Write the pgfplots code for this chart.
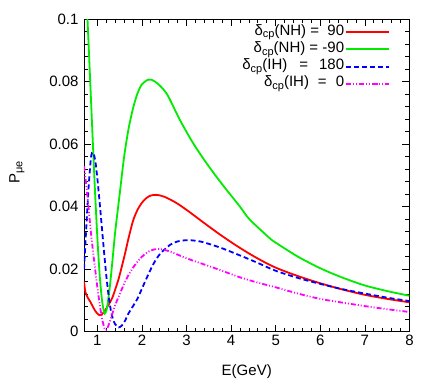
\documentclass[border=0pt]{standalone}
\usepackage{pgfplots}
\pgfplotsset{compat=1.18}
\usepackage{fontspec}
\setmainfont{Liberation Sans}
\definecolor{gpred}{RGB}{255,0,0}
\definecolor{gpgreen}{RGB}{0,235,0}
\definecolor{gpblue}{RGB}{0,0,255}
\definecolor{gpmag}{RGB}{255,0,255}
\newcommand\sub[1]{\raisebox{-0.35ex}{\fontsize{11}{11}\selectfont #1}}
\newcommand\lf{\fontsize{15}{16}\selectfont}
\begin{document}
\begin{tikzpicture}
\path (-84pt,-50.3pt) rectangle (352pt,331.7pt);
\begin{axis}[
  scale only axis, width=325.5pt, height=312.4pt,
  xmin=0.7, xmax=8, ymin=0, ymax=0.1,
  xtick={1,2,3,4,5,6,7,8},
  ytick={0,0.02,0.04,0.06,0.08,0.1},
  yticklabels={0,0.02,0.04,0.06,0.08,0.1},
  minor x tick num=4, minor y tick num=4,
  tick align=inside, major tick length=7pt, minor tick length=4pt,
  tick style={black, line width=0.8pt},
  axis line style={line width=0.9pt},
  /pgf/number format/assume math mode=true,
  xticklabel style={font=\lf},
  yticklabel style={font=\lf, xshift=-2pt},
  xlabel={E(GeV)},
  xlabel style={at={(axis description cs:0.5,-0.128)}, anchor=center, font=\lf},
  ylabel={P\sub{μe}},
  ylabel style={at={(axis description cs:-0.206,0.51)}, anchor=center, font=\lf},
  legend style={draw=none, fill=none, at={(0.94,0.985)}, anchor=north east,
    row sep=1.6pt, inner sep=0pt,
    nodes={text height=10pt, text depth=4pt, inner sep=0.85pt}},
  legend cell align=right,
  legend plot pos=right,
  legend image code/.code={\draw[mark repeat=2,mark phase=2,line width=1.8pt,#1] plot coordinates {(0pt,0pt) (21.5pt,0pt) (43pt,0pt)};},
]
\addplot[gpred, smooth, line width=1.8pt] coordinates {
(0.70,0.0160) (0.73,0.0128) (0.78,0.0110) (0.84,0.0096) (0.90,0.0080) (0.95,0.0067)
(1.00,0.0058) (1.045,0.0053) (1.10,0.0055) (1.18,0.0070) (1.25,0.0086) (1.33,0.0107)
(1.40,0.0135) (1.48,0.0171) (1.56,0.0215) (1.63,0.0256) (1.70,0.0300) (1.80,0.0355)
(1.90,0.0390) (2.00,0.0413) (2.10,0.0428) (2.20,0.0436) (2.33,0.0438) (2.50,0.0432)
(2.75,0.0414) (3.00,0.0390) (3.30,0.0358) (3.74,0.0312) (4.20,0.0268) (4.60,0.0234)
(5.00,0.0205) (5.50,0.0178) (6.00,0.0155) (6.50,0.0135) (7.00,0.0118) (7.50,0.0105)
(8.00,0.0094)};
\addlegendentry{\lf δ\sub{cp}(NH) = \ 90}
\addplot[gpgreen, smooth, line width=1.8pt] coordinates {
(0.70,0.1240) (0.76,0.1060) (0.80,0.0930) (0.85,0.0765) (0.90,0.0600) (0.95,0.0440)
(1.00,0.0300) (1.05,0.0185) (1.10,0.0105) (1.15,0.0062) (1.18,0.0060) (1.22,0.0080)
(1.28,0.0145) (1.34,0.0230) (1.40,0.0320) (1.50,0.0440) (1.60,0.0560) (1.70,0.0650)
(1.80,0.0715) (1.90,0.0763) (2.00,0.0792) (2.15,0.0807) (2.30,0.0800) (2.55,0.0763)
(2.85,0.0678) (3.15,0.0603) (3.45,0.0539) (3.82,0.0468) (4.20,0.0400) (4.41,0.0360)
(4.86,0.0300) (5.00,0.0285) (5.50,0.0240) (6.00,0.0203) (6.50,0.0173) (7.00,0.0148)
(7.50,0.0130) (8.00,0.0115)};
\addlegendentry{\lf δ\sub{cp}(NH) = -90}
\addplot[gpblue, smooth, line width=1.8pt, dash pattern=on 5pt off 3pt] coordinates {
(0.70,0.0200) (0.75,0.0330) (0.80,0.0455) (0.85,0.0548) (0.88,0.0573) (0.92,0.0568)
(0.96,0.0540) (1.00,0.0490) (1.05,0.0415) (1.10,0.0335) (1.15,0.0255) (1.20,0.0180)
(1.25,0.0117) (1.30,0.0070) (1.35,0.0040) (1.40,0.0024) (1.48,0.0014) (1.55,0.0020)
(1.62,0.0035) (1.70,0.0059) (1.80,0.0082) (1.90,0.0106) (2.00,0.0138) (2.10,0.0170)
(2.25,0.0215) (2.40,0.0248) (2.63,0.0278) (2.80,0.0289) (3.00,0.0293) (3.30,0.0289)
(3.74,0.0270) (4.20,0.0244) (4.60,0.0220) (5.00,0.0195) (5.50,0.0172) (6.00,0.0153)
(6.50,0.0136) (7.00,0.0122) (7.50,0.0109) (8.00,0.0098)};
\addlegendentry{\lf δ\sub{cp}(IH)\hspace{12pt}=\hspace{11pt}180}
\addplot[gpmag, smooth, line width=1.8pt, dash pattern=on 5pt off 2pt on 1pt off 2pt on 1pt off 2pt] coordinates {
(0.70,0.0530) (0.75,0.0470) (0.80,0.0400) (0.85,0.0325) (0.90,0.0260) (0.95,0.0200)
(1.00,0.0142) (1.05,0.0090) (1.10,0.0045) (1.15,0.0015) (1.18,0.0005) (1.22,0.0010)
(1.29,0.0037) (1.40,0.0085) (1.50,0.0120) (1.60,0.0153) (1.70,0.0182) (1.80,0.0205)
(1.90,0.0224) (2.00,0.0240) (2.10,0.0252) (2.20,0.0260) (2.36,0.0265) (2.60,0.0258)
(3.00,0.0235) (3.40,0.0215) (3.74,0.0198) (4.20,0.0174) (4.60,0.0157) (5.00,0.0142)
(5.50,0.0122) (6.00,0.0105) (6.50,0.0093) (7.00,0.0082) (7.50,0.0072) (8.00,0.0063)};
\addlegendentry{\lf δ\sub{cp}(IH)\hspace{9pt}=\hspace{9pt}0}
\end{axis}
\end{tikzpicture}
\end{document}
